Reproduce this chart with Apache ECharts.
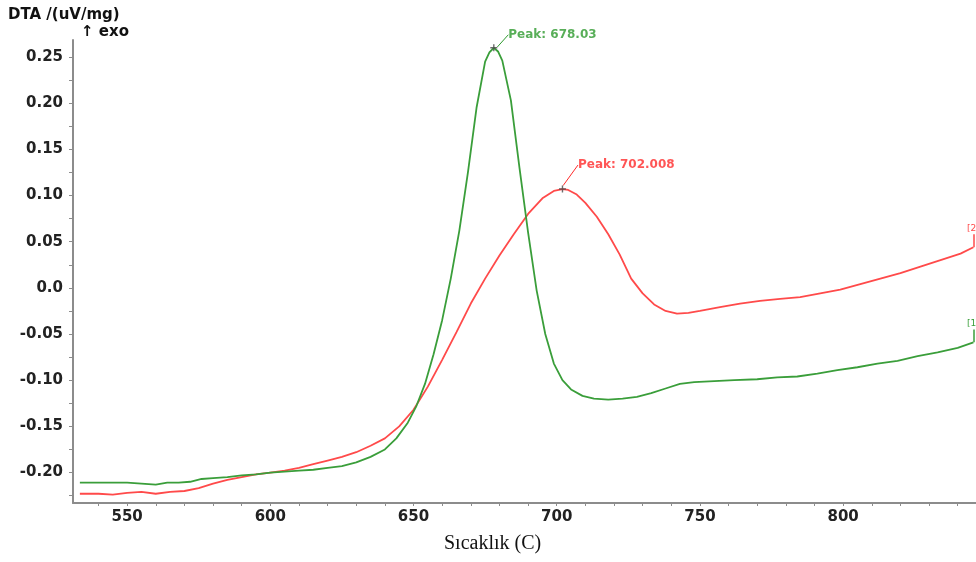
<!DOCTYPE html>
<html>
<head>
<meta charset="utf-8">
<script src="https://cdn.jsdelivr.net/npm/echarts@6.0.0/dist/echarts.min.js"></script>
<style>
  html, body { margin: 0; padding: 0; background: #fff; }
  #chart { width: 976px; height: 562px; }
</style>
</head>
<body>
<div id="chart"></div>
<script>
// Curve [1] (green): temperature (C) and DTA signal (uV/mg)
const tempGreen = [533.5, 540, 545, 550, 555, 560, 564, 568, 572, 576, 580, 585, 590, 595, 600,
  605, 610, 615, 620, 625, 630, 635, 640, 644, 648, 651, 654, 657, 660, 663, 666, 669, 672, 675,
  676.5, 678.03, 679.5, 681, 684, 687, 690, 693, 696, 699, 702, 705, 709, 713, 718, 723, 728, 733,
  738, 743, 748, 755, 762, 770, 777, 784, 791, 798, 805, 812, 819, 826, 833, 840, 845.5];
const dtaGreen = [-0.211, -0.211, -0.211, -0.211, -0.212, -0.213, -0.211, -0.211, -0.210, -0.207,
  -0.206, -0.205, -0.203, -0.202, -0.200, -0.199, -0.198, -0.197, -0.195, -0.193, -0.189, -0.183,
  -0.175, -0.163, -0.146, -0.128, -0.104, -0.072, -0.035, 0.010, 0.062, 0.125, 0.195, 0.245,
  0.255, 0.260, 0.256, 0.246, 0.203, 0.130, 0.060, -0.003, -0.050, -0.082, -0.100, -0.110, -0.117,
  -0.120, -0.121, -0.120, -0.118, -0.114, -0.109, -0.104, -0.102, -0.101, -0.100, -0.099, -0.097,
  -0.096, -0.093, -0.089, -0.086, -0.082, -0.079, -0.074, -0.070, -0.065, -0.059];

// Curve [2] (red)
const tempRed = [533.5, 540, 545, 550, 555, 560, 565, 570, 575, 580, 585, 590, 595, 600, 605, 610,
  615, 620, 625, 630, 635, 640, 645, 650, 655, 660, 665, 670, 675, 680, 685, 690, 695, 699,
  702.008, 704, 707, 710, 714, 718, 722, 726, 730, 734, 738, 742, 746, 750, 757, 764, 771, 778, 785,
  792, 799, 806, 813, 820, 827, 834, 841, 845.5];
const dtaRed = [-0.223, -0.223, -0.224, -0.222, -0.221, -0.223, -0.221, -0.220, -0.217, -0.212,
  -0.208, -0.205, -0.202, -0.200, -0.198, -0.195, -0.191, -0.187, -0.183, -0.178, -0.171, -0.163,
  -0.150, -0.132, -0.107, -0.078, -0.048, -0.017, 0.010, 0.035, 0.058, 0.080, 0.097, 0.105,
  0.107, 0.106, 0.101, 0.092, 0.077, 0.058, 0.036, 0.010, -0.006, -0.018, -0.025, -0.028, -0.027,
  -0.025, -0.021, -0.017, -0.014, -0.012, -0.010, -0.006, -0.002, 0.004, 0.010, 0.016, 0.023,
  0.030, 0.037, 0.044];

// Peak annotations
const peakGreen = [678.03, 0.260];
const peakRed = [702.008, 0.107];

// Axis ticks and labels
const xLabelValues = [550, 600, 650, 700, 750, 800];
const xTickValues = [540, 550, 560, 570, 580, 590, 600, 610, 620, 630, 640, 650, 660, 670, 680,
  690, 700, 710, 720, 730, 740, 750, 760, 770, 780, 790, 800, 810, 820, 830, 840];
const yLabelValues = [-0.20, -0.15, -0.10, -0.05, 0.0, 0.05, 0.10, 0.15, 0.20, 0.25];
const yTickValues = [-0.225, -0.20, -0.175, -0.15, -0.125, -0.10, -0.075, -0.05, -0.025, 0.0,
  0.025, 0.05, 0.075, 0.10, 0.125, 0.15, 0.175, 0.20, 0.225, 0.25];

const GREEN = '#3a9e3a';
const RED = '#ff4a4a';
const AXIS = '#8c8c8c';
const SANS = 'DejaVu Sans';

const zip = (xs, ys) => xs.map((x, i) => [x, ys[i]]);

function curveSeries(name, xs, ys, color, tag) {
  const lastX = xs[xs.length - 1];
  const lastY = ys[ys.length - 1];
  return {
    name: name,
    type: 'line',
    data: zip(xs, ys),
    showSymbol: false,
    smooth: false,
    lineStyle: { color: color, width: 1.8 },
    itemStyle: { color: color },
    z: 3,
    markLine: {
      silent: true,
      symbol: 'none',
      animation: false,
      lineStyle: { color: color, width: 1.5, type: 'solid' },
      label: {
        show: true, position: 'end', formatter: tag,
        color: color, fontSize: 9, fontFamily: SANS, distance: 1
      },
      data: [[{ coord: [lastX, lastY] }, { coord: [lastX, lastY + 0.014] }]]
    }
  };
}

function peakSeries(peak, color, dx, dy) {
  return {
    type: 'scatter',
    data: [peak],
    symbol: 'path://M4,0H6V4H10V6H6V10H4V6H0V4H4Z',
    symbolSize: 7,
    itemStyle: { color: '#4a4a4a' },
    z: 5,
    label: {
      show: true,
      position: 'right',
      distance: 0,
      formatter: 'Peak: ' + peak[0],
      color: color,
      fontFamily: SANS,
      fontWeight: 'bold',
      fontSize: 12
    },
    labelLayout: { dx: dx, dy: dy },
    labelLine: { show: true, lineStyle: { color: color, width: 1 } }
  };
}

const chart = echarts.init(document.getElementById('chart'), null, { renderer: 'canvas' });
chart.setOption({
  animation: false,
  backgroundColor: '#ffffff',
  grid: { left: 73, right: 0, top: 40, bottom: 59, containLabel: false },
  xAxis: {
    type: 'value',
    min: 531.1,
    max: 846.4,
    axisLine: { show: true, onZero: false, lineStyle: { color: AXIS, width: 2 } },
    axisTick: { show: true, customValues: xTickValues, length: 3, lineStyle: { color: AXIS, width: 1 } },
    axisLabel: {
      customValues: xLabelValues,
      color: '#222', fontFamily: SANS, fontWeight: 'bold', fontSize: 15, margin: 7
    },
    splitLine: { show: false }
  },
  yAxis: {
    type: 'value',
    min: -0.233,
    max: 0.2684,
    axisLine: { show: true, onZero: false, lineStyle: { color: AXIS, width: 2 } },
    axisTick: { show: true, customValues: yTickValues, length: 4, lineStyle: { color: AXIS, width: 1 } },
    axisLabel: {
      customValues: yLabelValues,
      formatter: v => (Math.abs(v) < 1e-9 ? '0.0' : v.toFixed(2)),
      color: '#222', fontFamily: SANS, fontWeight: 'bold', fontSize: 15, margin: 10
    },
    splitLine: { show: false }
  },
  graphic: [
    { type: 'text', left: 8, top: 8,
      style: { text: 'DTA /(uV/mg)', fill: '#111', font: 'bold 15px "DejaVu Sans"' } },
    { type: 'text', left: 81, top: 25,
      style: { text: '\u2191 exo', fill: '#111', font: 'bold 15px "DejaVu Sans"' } },
    { type: 'text', left: 444, top: 534,
      style: { text: 'S\u0131cakl\u0131k (C)', fill: '#111', font: '20px "Liberation Serif"' } }
  ],
  series: [
    curveSeries('[2]', tempRed, dtaRed, RED, '[2]'),
    curveSeries('[1]', tempGreen, dtaGreen, GREEN, '[1]'),
    peakSeries(peakGreen, '#2e9a2e', 11, -13),
    peakSeries(peakRed, '#ff2a2a', 12, -24)
  ]
});
</script>
</body>
</html>
